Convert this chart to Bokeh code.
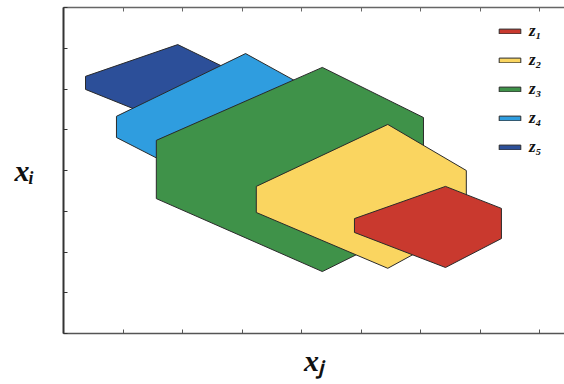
from bokeh.plotting import figure
from bokeh.models import Range1d, LinearAxis, FixedTicker, Legend, LegendItem
from bokeh.embed import file_html
from bokeh.resources import INLINE

# Vertices of each set in the (x_j, x_i) plane:
# top, upper-left, lower-left, bottom, lower-right, upper-right
z1_xj = [6.42, 4.89, 4.89, 6.42, 7.36, 7.36]
z1_xi = [3.61, 2.82, 2.48, 1.62, 2.33, 3.07]

z2_xj = [5.45, 3.24, 3.24, 5.45, 6.77, 6.77]
z2_xi = [5.13, 3.61, 2.97, 1.60, 2.65, 4.00]

z3_xj = [4.35, 1.56, 1.56, 4.35, 6.05, 6.05]
z3_xi = [6.53, 4.74, 3.31, 1.52, 2.75, 5.30]

z4_xj = [3.06, 0.89, 0.89, 3.06, 3.98, 3.98]
z4_xi = [6.87, 5.33, 4.81, 3.19, 5.10, 6.13]

z5_xj = [1.92, 0.37, 0.37, 1.92, 2.89, 2.89]
z5_xi = [7.09, 6.31, 5.99, 5.08, 5.72, 6.40]

labels = ["z\u2081", "z\u2082", "z\u2083", "z\u2084", "z\u2085"]
colors = ["#c9392e", "#fad560", "#3f9249", "#2f9ddf", "#2c4f99"]
ticks = [0, 1, 2, 3, 4, 5, 6, 7, 8]
x_title = "x\u2c7c"   # x sub j
y_title = "x\u1d62"   # x sub i

p = figure(width=564, height=384, output_backend="svg", toolbar_location=None,
           x_range=Range1d(0, 8.42), y_range=Range1d(0, 8),
           x_axis_location=None, y_axis_location=None,
           min_border_left=63, min_border_right=0, min_border_top=7, min_border_bottom=51)
p.outline_line_color = None
p.xgrid.visible = False
p.ygrid.visible = False
p.background_fill_color = "white"
p.border_fill_color = "white"


def frame_axis(axis, width, color):
    axis.ticker = FixedTicker(ticks=ticks)
    axis.major_tick_in = 4
    axis.major_tick_out = 0
    axis.minor_tick_line_color = None
    axis.major_label_overrides = {t: "" for t in ticks}
    axis.major_label_text_font_size = "0px"
    axis.major_label_standoff = 0
    axis.axis_line_color = color
    axis.axis_line_width = width
    axis.major_tick_line_color = color
    axis.major_tick_line_width = 1
    axis.axis_label_text_font = "Liberation Serif"
    axis.axis_label_text_font_style = "bold italic"
    axis.axis_label_text_font_size = "30px"
    axis.axis_label_text_color = "#111111"
    return axis


xaxis = frame_axis(LinearAxis(axis_label=x_title, axis_label_standoff=10), 1.5, "#555555")
yaxis = frame_axis(LinearAxis(axis_label=y_title, axis_label_standoff=29), 2, "#333333")
if "axis_label_orientation" in LinearAxis.properties():
    yaxis.axis_label_orientation = "horizontal"
p.add_layout(xaxis, "below")
p.add_layout(yaxis, "left")
p.add_layout(frame_axis(LinearAxis(), 1.5, "#666666"), "above")

# back to front: z5 first, z1 last
sets = [(z1_xj, z1_xi), (z2_xj, z2_xi), (z3_xj, z3_xi), (z4_xj, z4_xi), (z5_xj, z5_xi)]
renderers = [None] * 5
for k in range(4, -1, -1):
    xs, ys = sets[k]
    renderers[k] = p.patch(xs, ys, fill_color=colors[k], line_color="#2a2a2a", line_width=1)

legend = Legend(items=[LegendItem(label=labels[k], renderers=[renderers[k]]) for k in range(5)],
                location=(433, 176), orientation="vertical",
                glyph_width=27, glyph_height=6, label_height=20, spacing=9,
                label_standoff=6, padding=0, margin=0,
                border_line_color=None, background_fill_alpha=0,
                label_text_font="Liberation Serif", label_text_font_style="bold italic",
                label_text_font_size="17px", label_text_color="#111111")
p.add_layout(legend)

open("out.html", "w").write(file_html(p, INLINE))
